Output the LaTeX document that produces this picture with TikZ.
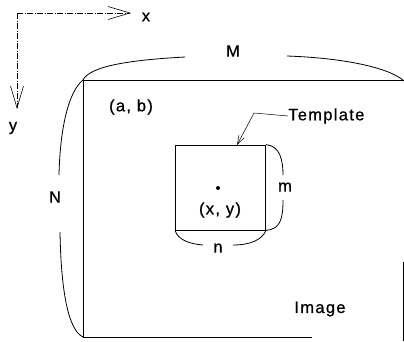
\documentclass[tikz,border=0pt]{standalone}
\usepackage{fontspec}
\setmainfont{Liberation Sans}
\usetikzlibrary{arrows.meta}
\begin{document}
\begin{tikzpicture}[x=1pt,y=-1pt,
  lbl/.style={inner sep=0pt,font=\fontsize{16.5}{18}\selectfont\addfontfeature{LetterSpace=8,FakeBold=0.8}},
  ln/.style={line width=0.9pt},
  brace/.style={line width=0.8pt},
  axis/.style={line width=0.5pt,dash pattern=on 6pt off 1.5pt on 1pt off 1.5pt,-{Straight Barb[length=22pt,width=13pt,line width=0.6pt]}}]
\useasboundingbox (0,0) rectangle (404,341);
% axes
\coordinate (o) at (17,13);
\coordinate (xe) at (131,13);
\coordinate (ye) at (17,109);
\draw[axis] (o) -- (xe);
\draw[axis] (o) -- (ye);
\node[lbl] (xl) at (146,17) {x};
\node[lbl] (yl) at (13,128) {y};
% image
\coordinate (tl) at (83,80);
\coordinate (tr) at (404,80);
\coordinate (bl) at (83,337);
\coordinate (br) at (312,337);
\draw[ln] (tr) -- (tl) -- (bl) -- (br);
\draw[line width=0.4pt] (403.2,262) -- (403.2,341);
% M brace
\draw[brace] (tl) .. controls (90,66) and (130,60) .. (185,57);
\draw[brace] (287,56) .. controls (345,58) and (390,68) .. (404,81);
\node[lbl] (M) at (233,51) {M};
% N brace
\draw[brace] (tl) .. controls (68,92) and (60,130) .. (59,175);
\draw[brace] (60,232) .. controls (61,290) and (68,330) .. (bl);
\node[lbl] (N) at (55,197) {N};
\node[lbl] (ab) at (131,107) {(a, b)};
% template
\node[draw,ln,minimum width=90pt,minimum height=85pt,inner sep=0pt] (tpl) at (220.5,187.5) {};
\fill (218,188) circle (2pt);
\node[lbl] (xy) at (220,210) {(x, y)};
% m brace
\draw[brace] (tpl.north east) .. controls (280,146) and (283,160) .. (283,175);
\draw[brace] (283,200) .. controls (283,220) and (280,229) .. (tpl.south east);
\node[lbl] (m) at (285,187) {m};
% n brace
\draw[brace] (tpl.south west) .. controls (178,240) and (190,244) .. (203,245);
\draw[brace] (233,245) .. controls (250,245) and (262,240) .. (tpl.south east);
\node[lbl] (n) at (218,248) {n};
% template label
\node[lbl,anchor=west] (tlab) at (288,116) {Template};
\coordinate (bend) at (254,113);
\draw[line width=0.5pt,-{Straight Barb[length=9pt,width=6pt,line width=0.5pt]}] (tlab.west) -- (bend) -- (237,145);
\node[lbl] (im) at (320,309) {Image};
\end{tikzpicture}
\end{document}
